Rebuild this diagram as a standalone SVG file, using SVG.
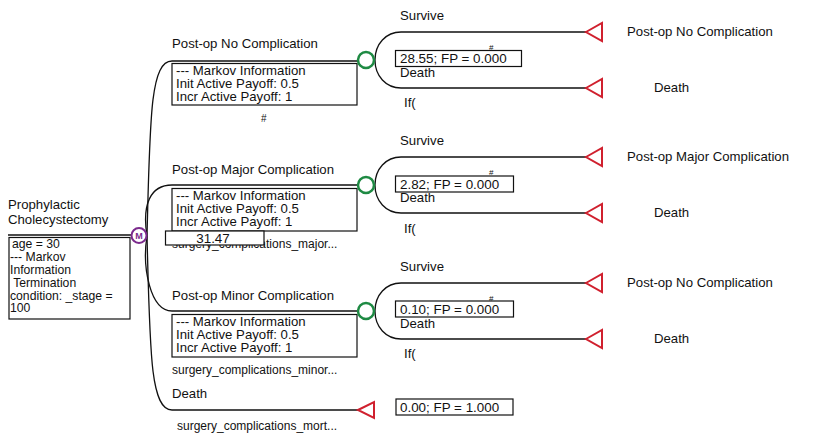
<svg xmlns="http://www.w3.org/2000/svg" width="821" height="441" viewBox="0 0 821 441">
<style>
text{font-family:"Liberation Sans",Arial,sans-serif;font-size:13.2px;fill:#111}
.ln{fill:none;stroke:#111;stroke-width:1.3}
.box{fill:#fff;stroke:#111;stroke-width:1.2}
.chance{fill:#fff;stroke:#1e8a43;stroke-width:2.5}
.term{fill:#fff;stroke:#d0202e;stroke-width:2;stroke-linejoin:miter}
.val{font-size:13.4px}
.rb{font-size:12.2px}
.sc{font-size:12px}
.h1{font-size:10px}
.h2{font-size:8px}
</style>
<rect width="821" height="441" fill="#fff"/>
<g id="connectors">
<path class="ln" d="M8,235 H131"/>
<path class="ln" d="M147,236 C150,120 150,61 172,61 H358"/>
<path class="ln" d="M147,236 C142,205 150,185 172,185 H358"/>
<path class="ln" d="M147,236 C142,267 150,311 172,311 H358"/>
<path class="ln" d="M147,236 C150,350 150,410 172,410 H358"/>
<path class="ln" d="M375,60 C375,44 386,32 401,32 H586"/>
<path class="ln" d="M375,60 C375,76 386,88 401,88 H586"/>
<path class="ln" d="M375,185 C375,169 386,157 401,157 H586"/>
<path class="ln" d="M375,185 C375,201 386,213 401,213 H586"/>
<path class="ln" d="M375,311 C375,295 386,283 401,283 H586"/>
<path class="ln" d="M375,311 C375,327 386,339 401,339 H586"/>
</g>
<g id="root">
<text x="8" y="209">Prophylactic</text>
<text x="8" y="224">Cholecystectomy</text>
<rect class="box" x="9" y="237.5" width="121" height="81.5"/>
<text class="rb" x="12" y="248">age = 30</text>
<text class="rb" x="10" y="261">--- Markov</text>
<text class="rb" x="10" y="274">Information</text>
<text class="rb" x="10" y="287" xml:space="preserve"> Termination</text>
<text class="rb" x="10" y="300">condition: _stage =</text>
<text class="rb" x="10" y="312">100</text>
</g>
<g id="markov">
<circle cx="139" cy="235.5" r="7.5" fill="#fff" stroke="#7b2a8c" stroke-width="2"/>
<text x="139" y="239" text-anchor="middle" style="font-size:9px;font-weight:bold;fill:#7b2a8c">M</text>
</g>
<g id="state-no-comp">
<text x="172" y="48">Post-op No Complication</text>
<rect class="box" x="172" y="63.5" width="185" height="41.5"/>
<text x="176" y="74.5">--- Markov Information</text>
<text x="176" y="87.5">Init Active Payoff: 0.5</text>
<text x="176" y="100.5">Incr Active Payoff: 1</text>
<text class="h1" x="261" y="122">#</text>
<circle class="chance" cx="366" cy="60" r="8"/>
</g>
<g id="no-comp-chance">
<text x="400" y="20">Survive</text>
<text class="h2" x="489" y="50">#</text>
<rect class="box" x="395.5" y="50.5" width="126" height="16"/>
<text class="val" x="400" y="63">28.55; FP = 0.000</text>
<text x="400" y="76.5">Death</text>
<text x="404" y="107">If(</text>
</g>
<g id="no-comp-survive"><polygon class="term" points="586,32 602,23 602,41"/><text x="627" y="36">Post-op No Complication</text></g>
<g id="no-comp-death"><polygon class="term" points="586,88 602,79 602,97"/><text x="654" y="92">Death</text></g>
<g id="state-major">
<text x="172" y="174">Post-op Major Complication</text>
<rect class="box" x="172" y="188.5" width="185" height="42.5"/>
<text x="176" y="200">--- Markov Information</text>
<text x="176" y="213">Init Active Payoff: 0.5</text>
<text x="176" y="226">Incr Active Payoff: 1</text>
<text class="sc" x="172" y="248">surgery_complications_major...</text>
<rect class="box" x="165.5" y="231" width="98.5" height="14"/>
<text class="val" x="213" y="243" text-anchor="middle">31.47</text>
<circle class="chance" cx="366" cy="185" r="8"/>
</g>
<g id="major-chance">
<text x="400" y="145">Survive</text>
<text class="h2" x="489" y="175">#</text>
<rect class="box" x="395.5" y="176" width="118" height="16"/>
<text class="val" x="400" y="189">2.82; FP = 0.000</text>
<text x="400" y="202">Death</text>
<text x="404" y="233">If(</text>
</g>
<g id="major-survive"><polygon class="term" points="586,157 602,148 602,166"/><text x="627" y="161">Post-op Major Complication</text></g>
<g id="major-death"><polygon class="term" points="586,213 602,204 602,222"/><text x="654" y="217">Death</text></g>
<g id="state-minor">
<text x="172" y="300">Post-op Minor Complication</text>
<rect class="box" x="172" y="314.5" width="185" height="42.5"/>
<text x="176" y="326">--- Markov Information</text>
<text x="176" y="339">Init Active Payoff: 0.5</text>
<text x="176" y="352">Incr Active Payoff: 1</text>
<text class="sc" x="172" y="374">surgery_complications_minor...</text>
<circle class="chance" cx="366" cy="311" r="8"/>
</g>
<g id="minor-chance">
<text x="400" y="271">Survive</text>
<text class="h2" x="489" y="301">#</text>
<rect class="box" x="395.5" y="301" width="118" height="16"/>
<text class="val" x="400" y="314">0.10; FP = 0.000</text>
<text x="400" y="328">Death</text>
<text x="404" y="358">If(</text>
</g>
<g id="minor-survive"><polygon class="term" points="586,283 602,274 602,292"/><text x="627" y="287">Post-op No Complication</text></g>
<g id="minor-death"><polygon class="term" points="586,339 602,330 602,348"/><text x="654" y="343">Death</text></g>
<g id="state-death">
<text x="172" y="398">Death</text>
<polygon class="term" points="358,410 374,402 374,418"/>
<rect class="box" x="396" y="399" width="117" height="16"/>
<text class="val" x="400" y="412">0.00; FP = 1.000</text>
<text class="sc" x="177" y="430">surgery_complications_mort...</text>
</g>
</svg>
